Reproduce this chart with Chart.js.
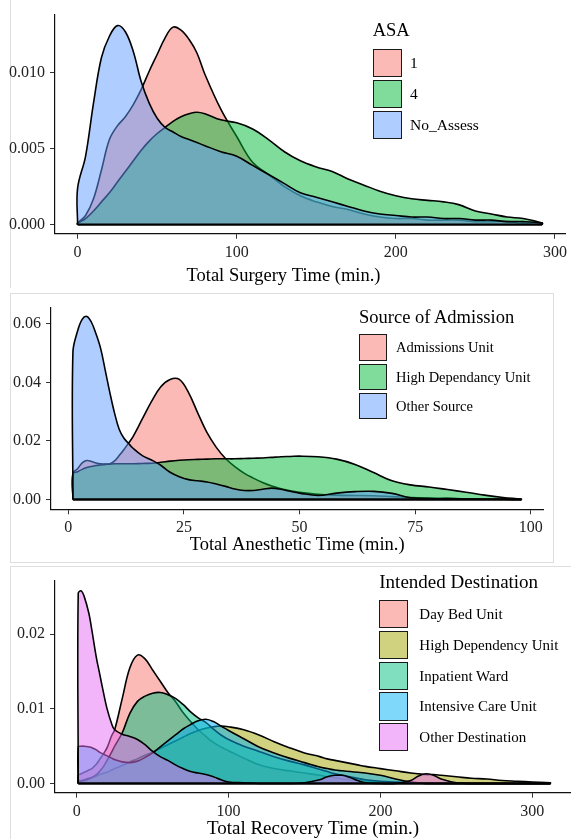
<!DOCTYPE html>
<html>
<head>
<meta charset="utf-8">
<script src="https://cdn.jsdelivr.net/npm/chart.js"></script>
<style>
  body { margin: 0; background: #fff; }
  #page { position: relative; width: 571px; height: 839px; overflow: hidden; font-family: "Liberation Serif", "DejaVu Serif", serif; color: #000; }
  canvas { position: absolute; left: 0; }
  .frame { position: absolute; box-sizing: border-box; border: 1px solid #dedede; }
  .lg-title, .lg-label { position: absolute; white-space: nowrap; line-height: 1; }
  .lg-box { position: absolute; box-sizing: border-box; border: 1.5px solid #1a1a1a; }
</style>
</head>
<body>
<div id="page">
  <div class="frame" style="left:10px; top:-2px; width:600px; height:290px; border-top:none; border-right:none; border-bottom:none;"></div>
  <div class="frame" style="left:10px; top:293px; width:544px; height:270px;"></div>
  <div class="frame" style="left:10px; top:566px; width:600px; height:300px;"></div>
  <canvas id="surgeryChart" width="571" height="290" style="top:0"></canvas>
  <canvas id="anestheticChart" width="571" height="270" style="top:293px"></canvas>
  <canvas id="recoveryChart" width="571" height="273" style="top:566px"></canvas>
</div>
<script>
// --- panel 1: surgery time by ASA ---
const surgeryX = [0, 5, 10, 15, 20, 25, 30, 35, 40, 45, 50, 55, 60, 65, 70, 75, 80,
  90, 100, 110, 120, 130, 140, 150, 160, 170, 180, 190, 200, 210, 220, 230, 240, 250, 260, 270, 280, 292];
const asaNames = ['1', '4', 'No_Assess'];
const asa1 = [0.0001, 0.0006, 0.0017, 0.0036, 0.0056, 0.0065, 0.0071, 0.0079, 0.0089, 0.0101,
  0.0112, 0.0123, 0.0130, 0.0128, 0.0122, 0.0113, 0.0099,
  0.0076, 0.0058, 0.0041, 0.0033, 0.0025, 0.0019, 0.0015, 0.0012, 0.0010, 0.0007, 0.0005, 0.0004,
  0.0004, 0.0003, 0.0003, 0.0003, 0.0002, 0.0002, 0.0002, 0.0001, 0.0001];
const asa4 = [0.0001, 0.0004, 0.0009, 0.0015, 0.0021, 0.0028, 0.0035, 0.0042, 0.0049, 0.0055,
  0.0060, 0.0064, 0.0068, 0.0071, 0.0073, 0.0074, 0.0073,
  0.0069, 0.0067, 0.0063, 0.0056, 0.0048, 0.0042, 0.0038, 0.0035, 0.0030, 0.0026, 0.0022, 0.0019,
  0.0017, 0.0016, 0.0015, 0.0013, 0.0009, 0.0007, 0.0005, 0.0004, 0.0001];
const noAssess = [0.0024, 0.0045, 0.0080, 0.0110, 0.0124, 0.0131, 0.0127, 0.0114, 0.0094, 0.0080,
  0.0070, 0.0064, 0.0061, 0.0058, 0.0056, 0.0054, 0.0052,
  0.0048, 0.0045, 0.0039, 0.0033, 0.0027, 0.0021, 0.0018, 0.0015, 0.0012, 0.0009, 0.0007, 0.0006,
  0.0005, 0.0005, 0.0004, 0.0004, 0.0003, 0.0003, 0.0002, 0.0002, 0.0001];
const surgeryTicksX = [0, 100, 200, 300];
const surgeryTicksY = [0, 0.005, 0.010];

// --- panel 2: anesthetic time by source of admission ---
const anestheticX = [1, 2, 3, 4, 5, 6, 7, 8, 9, 10, 11, 12, 13, 14,
  16, 18, 20, 22, 24, 26, 28, 30, 32, 34, 36, 38, 40, 42, 44, 46, 48, 50,
  54, 58, 62, 66, 70, 74, 78, 82, 86, 90, 94, 98];
const sourceNames = ['Admissions Unit', 'High Dependancy Unit', 'Other Source'];
const admissionsUnit = [0.0090, 0.0105, 0.0125, 0.0133, 0.0130, 0.0125, 0.0122, 0.0121, 0.0122, 0.0132, 0.0150, 0.0170, 0.0192, 0.0215,
  0.0275, 0.0335, 0.0385, 0.0410, 0.0410, 0.0365, 0.0295, 0.0228, 0.0178, 0.0140, 0.0112, 0.0090, 0.0073, 0.0058, 0.0046, 0.0037, 0.0030, 0.0025,
  0.0018, 0.0015, 0.0014, 0.0013, 0.0010, 0.0007, 0.0005, 0.0004, 0.0002, 0.0001, 0.0001, 0.0000];
const highDependancy = [0.0087, 0.0095, 0.0103, 0.0109, 0.0113, 0.0116, 0.0118, 0.0120, 0.0121, 0.0122, 0.0122, 0.0122, 0.0122, 0.0122,
  0.0123, 0.0124, 0.0127, 0.0131, 0.0134, 0.0136, 0.0137, 0.0138, 0.0139, 0.0139, 0.0139, 0.0140, 0.0141, 0.0142, 0.0144, 0.0146, 0.0147, 0.0148,
  0.0146, 0.0138, 0.0120, 0.0092, 0.0064, 0.0050, 0.0043, 0.0034, 0.0025, 0.0015, 0.0007, 0.0001];
const otherSource = [0.0503, 0.0575, 0.0615, 0.0625, 0.0605, 0.0565, 0.0515, 0.0440, 0.0364, 0.0295, 0.0240, 0.0210, 0.0192, 0.0175,
  0.0150, 0.0135, 0.0117, 0.0093, 0.0078, 0.0068, 0.0064, 0.0060, 0.0053, 0.0045, 0.0036, 0.0031, 0.0031, 0.0035, 0.0039, 0.0035, 0.0028, 0.0022,
  0.0014, 0.0022, 0.0027, 0.0028, 0.0021, 0.0006, 0.0003, 0.0003, 0.0002, 0.0001, 0.0001, 0.0000];
const anestheticTicksX = [0, 25, 50, 75, 100];
const anestheticTicksY = [0, 0.02, 0.04, 0.06];

// --- panel 3: recovery time by intended destination ---
const recoveryX = [1, 3, 5, 8, 10, 13, 15, 18, 20, 23, 25,
  30, 35, 40, 45, 50, 55, 60, 65, 70, 75, 80, 85, 90, 95, 100,
  110, 120, 130, 140, 150, 160, 165, 170, 175, 180, 185, 190,
  200, 210, 220, 225, 230, 235, 240, 250, 260, 270, 280, 290, 300, 312];
const destinationNames = ['Day Bed Unit', 'High Dependency Unit', 'Inpatient Ward', 'Intensive Care Unit', 'Other Destination'];
const dayBedUnit = [0.0011, 0.0013, 0.0015, 0.0018, 0.0020, 0.0026, 0.0032, 0.0041, 0.0048, 0.0064, 0.0072,
  0.0114, 0.0155, 0.0172, 0.0167, 0.0152, 0.0137, 0.0122, 0.0110, 0.0095, 0.0083, 0.0072, 0.0063, 0.0055, 0.0049, 0.0044,
  0.0034, 0.0025, 0.0020, 0.0017, 0.0014, 0.0011, 0.0009, 0.0008, 0.0006, 0.0005, 0.0004, 0.0003,
  0.0002, 0.0001, 0.0001, 0.0001, 0.0001, 0.0001, 0.0001, 0.0001, 0, 0, 0, 0, 0, 0];
const highDependency = [0.0003, 0.0004, 0.0005, 0.0007, 0.0008, 0.0010, 0.0012, 0.0014, 0.0015, 0.0018, 0.0020,
  0.0024, 0.0029, 0.0033, 0.0038, 0.0042, 0.0047, 0.0052, 0.0057, 0.0062, 0.0067, 0.0071, 0.0074, 0.0076, 0.0077, 0.0076,
  0.0072, 0.0065, 0.0056, 0.0048, 0.0041, 0.0036, 0.0033, 0.0031, 0.0029, 0.0027, 0.0025, 0.0023,
  0.0020, 0.0017, 0.0014, 0.0013, 0.0012, 0.0012, 0.0011, 0.0009, 0.0007, 0.0006, 0.0004, 0.0003, 0.0002, 0.0001];
const inpatientWard = [0.0002, 0.0003, 0.0004, 0.0006, 0.0008, 0.0012, 0.0016, 0.0024, 0.0031, 0.0042, 0.0050,
  0.0068, 0.0094, 0.0110, 0.0117, 0.0121, 0.0122, 0.0119, 0.0114, 0.0106, 0.0096, 0.0088, 0.0082, 0.0073, 0.0065, 0.0059,
  0.0050, 0.0043, 0.0036, 0.0030, 0.0025, 0.0019, 0.0016, 0.0013, 0.0011, 0.0009, 0.0007, 0.0005,
  0.0003, 0.0002, 0.0001, 0.0001, 0, 0, 0, 0, 0, 0, 0, 0, 0, 0];
const intensiveCare = [0.0049, 0.0050, 0.0050, 0.0049, 0.0048, 0.0045, 0.0042, 0.0039, 0.0037, 0.0034, 0.0032,
  0.0029, 0.0028, 0.0030, 0.0035, 0.0041, 0.0049, 0.0057, 0.0065, 0.0073, 0.0079, 0.0084, 0.0086, 0.0083, 0.0077, 0.0071,
  0.0060, 0.0049, 0.0041, 0.0034, 0.0028, 0.0022, 0.0020, 0.0018, 0.0017, 0.0016, 0.0015, 0.0014,
  0.0011, 0.0006, 0.0002, 0.0001, 0, 0, 0, 0, 0, 0, 0, 0, 0, 0];
const otherDestination = [0.0255, 0.0258, 0.0250, 0.0228, 0.0205, 0.0168, 0.0148, 0.0118, 0.0100, 0.0080, 0.0072,
  0.0066, 0.0063, 0.0059, 0.0052, 0.0043, 0.0036, 0.0031, 0.0025, 0.0020, 0.0016, 0.0014, 0.0012, 0.0009, 0.0005, 0.0002,
  0.0001, 0, 0, 0, 0.0001, 0.0005, 0.0009, 0.0011, 0.0011, 0.0008, 0.0004, 0.0001,
  0, 0, 0.0004, 0.0010, 0.0013, 0.0011, 0.0006, 0.0001, 0, 0, 0, 0, 0, 0];
const recoveryTicksX = [0, 100, 200, 300];
const recoveryTicksY = [0, 0.01, 0.02];

// ggplot default hues, alpha 0.5
const hue3 = ['rgba(248,118,109,0.5)', 'rgba(0,186,56,0.5)', 'rgba(97,156,255,0.5)'];
const hue5 = ['rgba(248,118,109,0.5)', 'rgba(163,165,0,0.5)', 'rgba(0,191,125,0.5)', 'rgba(0,176,246,0.5)', 'rgba(231,107,243,0.5)'];

const SERIF = '"Liberation Serif", "DejaVu Serif", serif';
Chart.defaults.font.family = SERIF;

function densityChart(canvasId, xs, seriesList, colors, ax) {
    const ctx = document.getElementById(canvasId);
    const first = xs[0];
    const last = xs[xs.length - 1];

    const datasets = seriesList.map((ys, i) => ({
        data: [{x: first, y: 0}].concat(xs.map((x, j) => ({x, y: ys[j]})), [{x: last, y: 0}]),
        backgroundColor: colors[i],
        borderColor: '#000',
        borderWidth: 1.6,
        fill: 'origin',
        pointRadius: 0,
        tension: 0.38,
        order: seriesList.length - i   // first group painted first, like ggplot
    }));
    // closing edge of the density polygons along y = 0
    datasets.push({
        data: [{x: first, y: 0}, {x: last, y: 0}],
        borderColor: '#000',
        borderWidth: 2.4,
        pointRadius: 0,
        fill: false,
        order: 0
    });

    new Chart(ctx, {
        type: 'line',
        data: { datasets },
        options: {
            responsive: false,
            animation: false,
            devicePixelRatio: 1,
            events: [],
            layout: { padding: ax.padding },
            plugins: {
                legend: { display: false },
                tooltip: { enabled: false },
                title: ax.bottomTitle ? {
                    display: true,
                    position: 'bottom',
                    text: ax.bottomTitle,
                    color: '#000',
                    font: { size: 18.5, weight: 'normal', lineHeight: 1 },
                    padding: { top: 0, bottom: ax.bottomTitlePad }
                } : { display: false }
            },
            scales: {
                x: {
                    type: 'linear',
                    min: ax.xMin,
                    max: ax.xMax,
                    afterBuildTicks: s => { s.ticks = ax.xTicks.map(v => ({value: v})); },
                    afterFit: s => { s.height = ax.xHeight; },
                    ticks: { color: '#222', font: { size: 16 }, padding: 4, maxRotation: 0, autoSkip: false, callback: v => String(v) },
                    grid: { drawOnChartArea: false, drawTicks: true, tickLength: 5, color: '#333' },
                    border: { display: true, color: '#111', width: 1.2 },
                    title: ax.xTitle ? {
                        display: true,
                        text: ax.xTitle,
                        color: '#000',
                        font: { size: ax.xTitleSize, lineHeight: 1 },
                        padding: { top: 0, bottom: ax.xTitlePad }
                    } : { display: false }
                },
                y: {
                    type: 'linear',
                    min: ax.yMin,
                    max: ax.yMax,
                    afterBuildTicks: s => { s.ticks = ax.yTicks.map(v => ({value: v})); },
                    afterFit: s => { s.width = ax.yWidth; },
                    ticks: { color: '#222', font: { size: 16 }, padding: 5, autoSkip: false, callback: v => v.toFixed(ax.yDecimals) },
                    grid: { drawOnChartArea: false, drawTicks: true, tickLength: 5, color: '#333' },
                    border: { display: true, color: '#111', width: 1.2 }
                }
            }
        }
    });
}

function buildLegend(lg) {
    const page = document.getElementById('page');
    const t = document.createElement('div');
    t.className = 'lg-title';
    t.textContent = lg.title;
    t.style.cssText = `left:${lg.left}px; top:${lg.titleTop}px; font-size:${lg.titleSize}px;`;
    page.appendChild(t);

    lg.names.forEach((name, i) => {
        const top = lg.boxTop + i * lg.step;
        const box = document.createElement('div');
        box.className = 'lg-box';
        box.style.cssText = `left:${lg.left}px; top:${top}px; width:${lg.boxW}px; height:${lg.boxH}px; background:${lg.colors[i]};`;
        page.appendChild(box);

        const label = document.createElement('div');
        label.className = 'lg-label';
        label.textContent = name;
        label.style.cssText = `left:${lg.labelLeft}px; top:${top}px; height:${lg.boxH}px; line-height:${lg.boxH}px; font-size:${lg.labelSize}px;`;
        page.appendChild(label);
    });
}

densityChart('surgeryChart', surgeryX, [asa1, asa4, noAssess], hue3, {
    xMin: -14.2, xMax: 306.4, yMin: -0.0006, yMax: 0.0138,
    xTicks: surgeryTicksX, yTicks: surgeryTicksY, yDecimals: 3,
    yWidth: 55, xHeight: 33.25,
    padding: { top: 15, right: 4, left: 0, bottom: 0 },
    bottomTitle: 'Total Surgery Time (min.)', bottomTitlePad: 4.5
});

densityChart('anestheticChart', anestheticX, [admissionsUnit, highDependancy, otherSource], hue3, {
    xMin: -3.74, xMax: 102.7, yMin: -0.00333, yMax: 0.0655,
    xTicks: anestheticTicksX, yTicks: anestheticTicksY, yDecimals: 2,
    yWidth: 51, xHeight: 53.7,
    padding: { top: 9.7, right: 27.7, left: 0, bottom: 0 },
    xTitle: 'Total Anesthetic Time (min.)', xTitleSize: 18.5, xTitlePad: 9
});

densityChart('recoveryChart', recoveryX, [dayBedUnit, highDependency, inpatientWard, intensiveCare, otherDestination], hue5, {
    xMin: -14.3, xMax: 325.5, yMin: -0.00123, yMax: 0.02718,
    xTicks: recoveryTicksX, yTicks: recoveryTicksY, yDecimals: 2,
    yWidth: 55, xHeight: 46.3,
    padding: { top: 9, right: 0, left: 0, bottom: 0 },
    xTitle: 'Total Recovery Time (min.)', xTitleSize: 19, xTitlePad: 0
});

buildLegend({ title: 'ASA', names: asaNames, colors: hue3, left: 372.7, titleTop: 21.2, titleSize: 18.5,
    boxTop: 49.3, step: 30.85, boxW: 29, boxH: 28, labelLeft: 410, labelSize: 15.5 });
buildLegend({ title: 'Source of Admission', names: sourceNames, colors: hue3, left: 359, titleTop: 307.8, titleSize: 18.5,
    boxTop: 334.3, step: 29.2, boxW: 27.7, boxH: 26.7, labelLeft: 396, labelSize: 14.5 });
buildLegend({ title: 'Intended Destination', names: destinationNames, colors: hue5, left: 379.3, titleTop: 572.4, titleSize: 19,
    boxTop: 600, step: 30.8, boxW: 29, boxH: 28.3, labelLeft: 419.3, labelSize: 15 });
</script>
</body>
</html>
